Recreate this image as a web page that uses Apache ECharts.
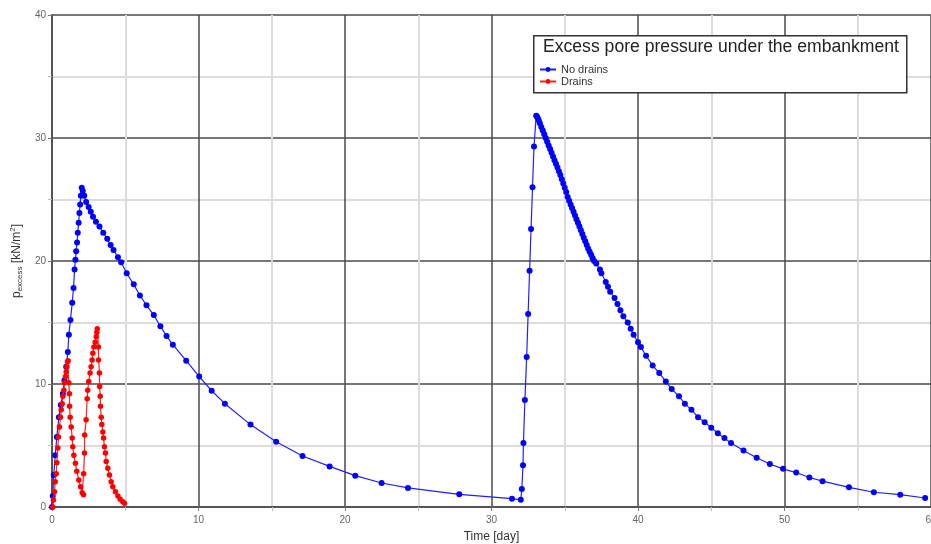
<!DOCTYPE html>
<html>
<head>
<meta charset="utf-8">
<script src="https://cdn.jsdelivr.net/npm/echarts@6/dist/echarts.min.js"></script>
<style>html,body{margin:0;padding:0;background:#fff}#c{width:931px;height:544px}</style>
</head>
<body>
<div id="c"></div>
<script>
// ---- data ----
var noDrainsT = [0,0.05,0.12,0.22,0.33,0.47,0.6,0.74,0.85,0.97,1.08,1.15,1.26,1.38,1.47,1.54,1.6,1.65,1.71,1.76,1.82,1.87,1.92,1.97,2.03,2.1,2.2,2.33,2.5,2.65,2.8,3.0,3.24,3.5,3.77,4.0,4.2,4.5,4.72,5.1,5.58,6.0,6.45,6.95,7.4,7.82,8.25,9.16,10.05,10.9,11.8,13.55,15.3,17.1,18.95,20.7,22.5,24.3,27.8,31.4,32.0,32.07,32.15,32.18,32.28,32.4,32.5,32.6,32.7,32.8,32.9,33.05,
  33.1,33.16,33.22,33.3,33.4,33.5,33.6,33.7,33.8,33.9,34.0,34.1,34.2,34.3,34.4,34.5,34.6,34.7,34.8,34.9,35.0,35.1,35.2,35.3,35.4,35.5,35.6,35.7,35.8,35.9,36.0,36.1,36.2,36.3,36.4,36.5,36.6,36.7,36.8,36.9,37.0,37.15,
  37.4,37.5,37.8,37.95,38.1,38.4,38.6,38.8,39.0,39.3,39.5,39.7,40.0,40.2,40.55,41.0,41.45,41.9,42.3,42.8,43.2,43.65,44.1,44.55,45.0,45.45,45.9,46.35,47.2,48.1,49.0,49.9,50.8,51.7,52.6,54.4,56.1,57.9,59.6];
var noDrainsP = [0,0.9,2.6,4.2,5.7,7.3,8.3,9.2,10.3,11.4,12.6,14.0,15.2,16.6,17.8,19.3,20.1,20.8,21.5,22.3,23.1,23.9,24.6,25.3,25.95,25.7,25.3,24.8,24.4,24.0,23.6,23.2,22.8,22.3,21.8,21.3,20.9,20.3,19.9,19.0,18.1,17.2,16.4,15.6,14.7,13.9,13.2,11.9,10.6,9.45,8.4,6.7,5.3,4.15,3.3,2.55,1.95,1.55,1.03,0.68,0.58,1.46,3.4,5.2,8.7,12.2,15.7,19.2,22.6,26.0,29.3,31.8,
  31.75,31.6,31.45,31.2,30.9,30.6,30.3,30.0,29.7,29.4,29.1,28.8,28.5,28.2,27.9,27.6,27.3,27.0,26.65,26.3,25.95,25.6,25.2,24.9,24.6,24.3,24.0,23.7,23.4,23.1,22.8,22.5,22.2,21.9,21.6,21.3,21.0,20.75,20.5,20.25,20.0,19.8,
  19.3,19.0,18.3,17.9,17.5,17.0,16.5,16.0,15.5,15.0,14.5,14.0,13.4,13.0,12.3,11.5,10.9,10.2,9.6,9.0,8.4,7.9,7.3,6.9,6.45,6.0,5.6,5.2,4.6,4.0,3.5,3.1,2.8,2.4,2.1,1.6,1.2,1.0,0.73];

var drainsT = [0.06,0.1,0.17,0.22,0.29,0.33,0.4,0.44,0.51,0.58,0.63,0.7,0.74,0.81,0.85,0.92,0.97,1.02,1.06,
  1.1,1.15,1.19,1.2,1.24,1.31,1.38,1.42,1.49,1.6,1.69,1.83,1.95,2.06,
  2.15,2.16,2.22,2.23,2.33,2.4,2.44,2.51,2.6,2.67,2.74,2.79,2.86,2.95,3.02,3.06,
  3.09,3.17,3.18,3.24,3.25,3.29,3.31,3.36,3.4,3.47,3.52,3.58,3.65,3.7,3.81,3.92,4.04,4.15,4.33,4.5,4.65,4.83,4.95];
var drainsP = [0,0.57,1.25,2.06,2.7,3.6,4.8,5.7,6.5,7.3,7.9,8.4,9.0,9.5,10.1,10.6,11.0,11.4,11.8,
  11.9,10.1,9.2,8.2,7.3,6.5,5.6,4.9,4.2,3.55,2.9,2.2,1.65,1.15,
  1.0,2.7,4.4,5.85,7.1,8.8,9.5,10.2,10.9,11.4,11.95,12.5,13.0,13.4,13.85,14.2,
  14.5,13.0,11.95,10.9,9.8,9.0,8.2,7.3,6.7,6.1,5.6,4.9,4.4,3.7,3.15,2.6,2.06,1.65,1.25,0.9,0.63,0.43,0.3];

var xTicks = [0,10,20,30,40,50,60];
var yTicks = [0,10,20,30,40];
var seriesNames = ['No drains','Drains'];
var legendTitle = 'Excess pore pressure under the embankment';

function pairs(t,p){ return t.map(function(v,i){ return [v,p[i]]; }); }

var chart = echarts.init(document.getElementById('c'), null, {renderer:'canvas'});
var majorLine = {show:true, lineStyle:{color:'#4a4a4a', width:1.5}};
var minorLine = {show:true, lineStyle:{color:'#dcdcdc', width:2}};
chart.setOption({
  backgroundColor:'#ffffff',
  animation:false,
  textStyle:{fontFamily:'Liberation Sans, Arial, sans-serif'},
  grid:{left:52, right:0, top:15, bottom:37, containLabel:false, outerBoundsMode:'none'},
  xAxis:{
    type:'value', min:xTicks[0], max:xTicks[xTicks.length-1], interval:10,
    name:'Time [day]', nameLocation:'middle', nameGap:24,
    nameTextStyle:{fontSize:12, color:'#333'},
    axisLine:{show:true, onZero:false, lineStyle:{color:'#555', width:2}},
    axisTick:{show:true, length:4, lineStyle:{color:'#777'}},
    minorTick:{show:true, splitNumber:2, length:4, lineStyle:{color:'#bbb'}},
    axisLabel:{fontSize:10, color:'#666', margin:8},
    splitLine:majorLine,
    minorSplitLine:minorLine
  },
  yAxis:{
    type:'value', min:yTicks[0], max:yTicks[yTicks.length-1], interval:10,
    name:'{p|p}{sub|excess}{n| [kN/m}{sup|2}{n|]}', nameLocation:'middle', nameGap:18, nameRotate:90,
    nameTextStyle:{color:'#333', rich:{
      p:{fontSize:12, color:'#333'},
      n:{fontSize:12, color:'#333'},
      sub:{fontSize:8, color:'#333', padding:[7,0,0,0]},
      sup:{fontSize:8, color:'#333', padding:[0,0,7,0]}
    }},
    axisLine:{show:true, lineStyle:{color:'#555', width:2}},
    axisTick:{show:true, length:4, lineStyle:{color:'#777'}},
    minorTick:{show:true, splitNumber:2, length:4, lineStyle:{color:'#bbb'}},
    axisLabel:{fontSize:10, color:'#666', margin:6},
    splitLine:majorLine,
    minorSplitLine:minorLine
  },
  legend:{
    show:true, orient:'vertical', left:534, top:59, itemGap:1, z:20, zlevel:0,
    itemWidth:16, itemHeight:6,
    textStyle:{fontSize:11, color:'#333'},
    data:seriesNames
  },
  graphic:[
    {type:'rect', left:533, top:35, shape:{width:373, height:57}, style:{fill:'#fff', stroke:'#333', lineWidth:1.5}, z:5},
    {type:'text', left:543, top:38, style:{text:legendTitle, font:'17.6px "Liberation Sans", Arial, sans-serif', fill:'#222'}, z:6}
  ],
  series:[
    {name:seriesNames[0], type:'line', data:pairs(noDrainsT,noDrainsP), color:'#0000ff',
     symbol:'circle', symbolSize:6, showAllSymbol:true, lineStyle:{width:1.2, color:'#2020ff'}, itemStyle:{color:'#0000ff'}, z:3},
    {name:seriesNames[1], type:'line', data:pairs(drainsT,drainsP), color:'#ff0000',
     symbol:'circle', symbolSize:5.5, showAllSymbol:true, lineStyle:{width:1.2, color:'#ff2020'}, itemStyle:{color:'#ff0000'}, z:4}
  ]
});
</script>
</body>
</html>
